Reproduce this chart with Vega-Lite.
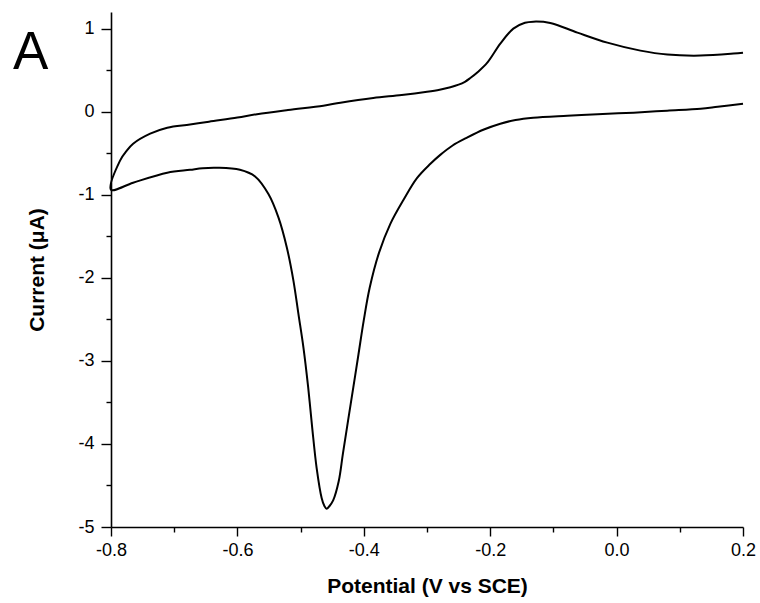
{
  "$schema": "https://vega.github.io/schema/vega-lite/v6.json",
  "autosize": {"type": "none"},
  "width": 632,
  "height": 515,
  "padding": {"left": 111, "top": 12, "right": 17, "bottom": 76},
  "background": "white",
  "title": {
    "text": "A",
    "anchor": "start",
    "frame": "group",
    "font": "Liberation Sans",
    "fontSize": 53,
    "fontWeight": "normal",
    "color": "black",
    "baseline": "alphabetic",
    "offset": -110,
    "dx": -98
  },
  "config": {
    "view": {"stroke": null},
    "axis": {
      "grid": false,
      "domainColor": "black",
      "domainWidth": 1.6,
      "tickColor": "black",
      "tickWidth": 1.4,
      "labelColor": "black",
      "labelFont": "Liberation Sans",
      "labelFontSize": 18,
      "titleColor": "black",
      "titleFont": "Liberation Sans",
      "titleFontSize": 21,
      "titleFontWeight": "bold"
    }
  },
  "data": {
    "values": [
      {"i": 1, "E": 0.2, "I": 0.096},
      {"i": 2, "E": 0.16, "I": 0.06},
      {"i": 3, "E": 0.133, "I": 0.036},
      {"i": 4, "E": 0.08, "I": 0.012},
      {"i": 5, "E": 0.027, "I": -0.012},
      {"i": 6, "E": -0.03, "I": -0.03},
      {"i": 7, "E": -0.078, "I": -0.048},
      {"i": 8, "E": -0.132, "I": -0.072},
      {"i": 9, "E": -0.16, "I": -0.1},
      {"i": 10, "E": -0.184, "I": -0.145},
      {"i": 11, "E": -0.21, "I": -0.215},
      {"i": 12, "E": -0.236, "I": -0.31},
      {"i": 13, "E": -0.26, "I": -0.41},
      {"i": 14, "E": -0.279, "I": -0.52},
      {"i": 15, "E": -0.295, "I": -0.63},
      {"i": 16, "E": -0.3159, "I": -0.8},
      {"i": 17, "E": -0.3371, "I": -1.06},
      {"i": 18, "E": -0.358, "I": -1.35},
      {"i": 19, "E": -0.376, "I": -1.7},
      {"i": 20, "E": -0.3907, "I": -2.12},
      {"i": 21, "E": -0.4002, "I": -2.518},
      {"i": 22, "E": -0.4084, "I": -2.92},
      {"i": 23, "E": -0.4166, "I": -3.32},
      {"i": 24, "E": -0.4249, "I": -3.72},
      {"i": 25, "E": -0.4331, "I": -4.12},
      {"i": 26, "E": -0.4397, "I": -4.45},
      {"i": 27, "E": -0.4485, "I": -4.68},
      {"i": 28, "E": -0.4545, "I": -4.75},
      {"i": 29, "E": -0.4587, "I": -4.78},
      {"i": 30, "E": -0.4625, "I": -4.745},
      {"i": 31, "E": -0.4667, "I": -4.65},
      {"i": 32, "E": -0.4746, "I": -4.29},
      {"i": 33, "E": -0.4817, "I": -3.8},
      {"i": 34, "E": -0.488, "I": -3.32},
      {"i": 35, "E": -0.4955, "I": -2.84},
      {"i": 36, "E": -0.5034, "I": -2.437},
      {"i": 37, "E": -0.5113, "I": -2.036},
      {"i": 38, "E": -0.5218, "I": -1.635},
      {"i": 39, "E": -0.5351, "I": -1.273},
      {"i": 40, "E": -0.5509, "I": -0.992},
      {"i": 41, "E": -0.572, "I": -0.78},
      {"i": 42, "E": -0.596, "I": -0.699},
      {"i": 43, "E": -0.632, "I": -0.675},
      {"i": 44, "E": -0.655, "I": -0.68},
      {"i": 45, "E": -0.675, "I": -0.7},
      {"i": 46, "E": -0.711, "I": -0.735},
      {"i": 47, "E": -0.765, "I": -0.855},
      {"i": 48, "E": -0.8, "I": -0.94},
      {"i": 49, "E": -0.7857, "I": -0.59},
      {"i": 50, "E": -0.775, "I": -0.47},
      {"i": 51, "E": -0.765, "I": -0.386},
      {"i": 52, "E": -0.738, "I": -0.265},
      {"i": 53, "E": -0.711, "I": -0.193},
      {"i": 54, "E": -0.675, "I": -0.155},
      {"i": 55, "E": -0.645, "I": -0.12},
      {"i": 56, "E": -0.6, "I": -0.07},
      {"i": 57, "E": -0.569, "I": -0.03},
      {"i": 58, "E": -0.52, "I": 0.02},
      {"i": 59, "E": -0.464, "I": 0.072},
      {"i": 60, "E": -0.437, "I": 0.108},
      {"i": 61, "E": -0.385, "I": 0.165},
      {"i": 62, "E": -0.34, "I": 0.2},
      {"i": 63, "E": -0.3, "I": 0.24},
      {"i": 64, "E": -0.28, "I": 0.265},
      {"i": 65, "E": -0.263, "I": 0.295},
      {"i": 66, "E": -0.25, "I": 0.325},
      {"i": 67, "E": -0.24, "I": 0.36},
      {"i": 68, "E": -0.2315, "I": 0.405},
      {"i": 69, "E": -0.22, "I": 0.475},
      {"i": 70, "E": -0.2046, "I": 0.59},
      {"i": 71, "E": -0.184, "I": 0.819},
      {"i": 72, "E": -0.1634, "I": 1.0},
      {"i": 73, "E": -0.145, "I": 1.07},
      {"i": 74, "E": -0.1317, "I": 1.084},
      {"i": 75, "E": -0.105, "I": 1.068},
      {"i": 76, "E": -0.062, "I": 0.952},
      {"i": 77, "E": -0.0146, "I": 0.831},
      {"i": 78, "E": 0.0377, "I": 0.735},
      {"i": 79, "E": 0.0804, "I": 0.687},
      {"i": 80, "E": 0.1327, "I": 0.675},
      {"i": 81, "E": 0.185, "I": 0.699},
      {"i": 82, "E": 0.2, "I": 0.71}
    ]
  },
  "mark": {"type": "line", "color": "black", "strokeWidth": 2, "interpolate": "catmull-rom"},
  "encoding": {
    "order": {"field": "i", "type": "quantitative"},
    "x": {
      "field": "E",
      "type": "quantitative",
      "scale": {"domain": [-0.8, 0.2], "nice": false, "zero": false},
      "axis": {
        "title": "Potential (V vs SCE)",
        "values": [-0.8, -0.7, -0.6, -0.5, -0.4, -0.3, -0.2, -0.1, 0, 0.1, 0.2],
        "labelExpr": "round(datum.value*10) % 2 === 0 ? replace(format(datum.value, '.1f'), '\u2212', '-') : ''",
        "tickSize": {"condition": {"test": "round(datum.value*10) % 2 === 0", "value": 9}, "value": 5},
        "labelPadding": 5,
        "labelFlush": false,
        "labelOverlap": false,
        "titlePadding": 16
      }
    },
    "y": {
      "field": "I",
      "type": "quantitative",
      "scale": {"domain": [-5, 1.2], "nice": false, "zero": false},
      "axis": {
        "title": "Current (\u03bcA)",
        "values": [-5, -4.5, -4, -3.5, -3, -2.5, -2, -1.5, -1, -0.5, 0, 0.5, 1],
        "labelExpr": "round(datum.value*2) % 2 === 0 ? replace(format(datum.value, 'd'), '\u2212', '-') : ''",
        "tickSize": {"condition": {"test": "round(datum.value*2) % 2 === 0", "value": 10}, "value": 5},
        "labelPadding": 7,
        "labelFlush": false,
        "labelOverlap": false,
        "titlePadding": 30
      }
    }
  }
}
